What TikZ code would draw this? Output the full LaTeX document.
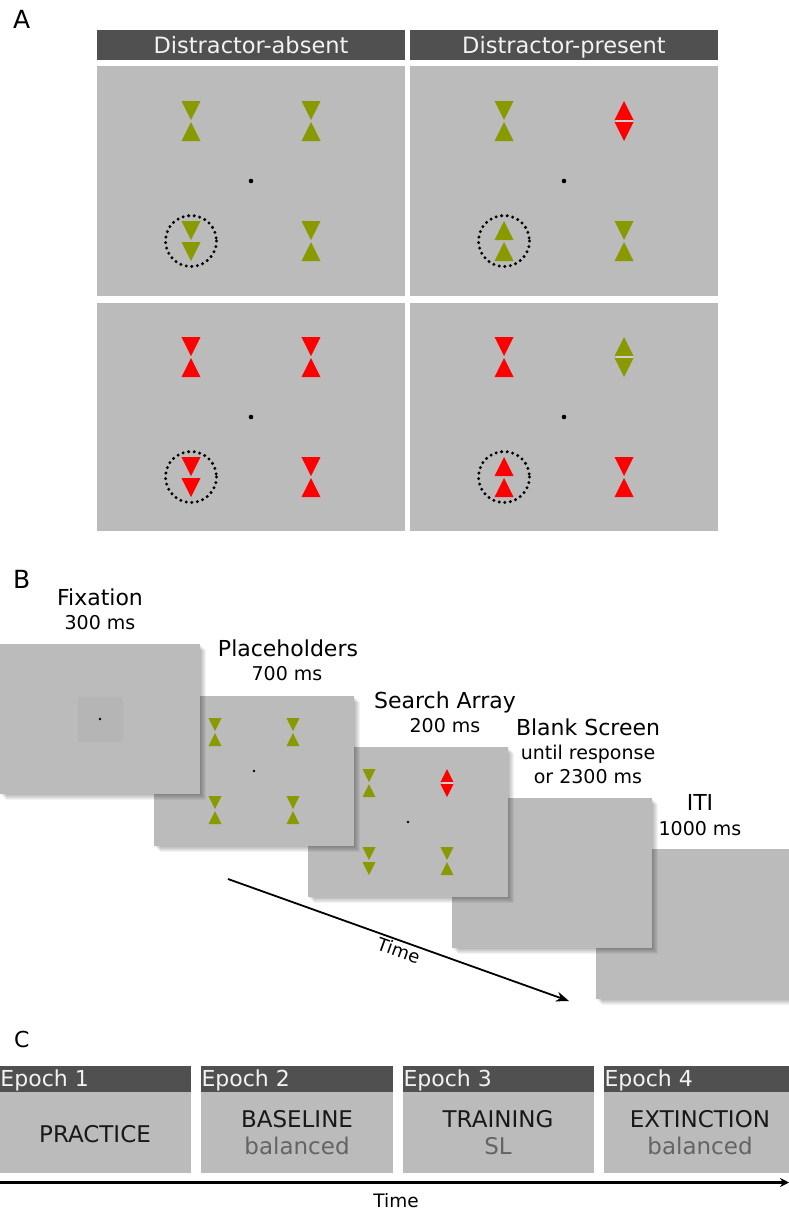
\documentclass[tikz,border=0pt]{standalone}
\usepackage{fontspec}
\setmainfont{DejaVu Sans}
\usetikzlibrary{arrows.meta}
\definecolor{bg}{RGB}{187,187,187}
\definecolor{hdr}{RGB}{80,80,80}
\definecolor{olv}{RGB}{137,153,0}
\definecolor{rd}{RGB}{255,0,0}
\definecolor{fixsq}{RGB}{181,181,181}
\definecolor{subtxt}{RGB}{100,100,100}
\definecolor{gapline}{RGB}{215,205,205}
% triangle: x, base y, apex y, colour, width
\newcommand{\tri}[5]{\fill[#4] ({#1-#5/2},{#2}) -- ({#1+#5/2},{#2}) -- ({#1},{#3}) -- cycle;}
% pairs: x, centre y, colour, size
\newcommand{\hgl}[4]{\tri{#1}{#2-1-#4}{#2-1}{#3}{#4}\tri{#1}{#2+1+#4}{#2+1}{#3}{#4}}
\newcommand{\ddn}[4]{\tri{#1}{#2-1-#4}{#2-1}{#3}{#4}\tri{#1}{#2+1}{#2+1+#4}{#3}{#4}}
\newcommand{\uup}[4]{\tri{#1}{#2-1}{#2-1-#4}{#3}{#4}\tri{#1}{#2+1+#4}{#2+1}{#3}{#4}}
\newcommand{\dia}[4]{\tri{#1}{#2-1}{#2-1-#4}{#3}{#4}\tri{#1}{#2+1}{#2+1+#4}{#3}{#4}%
  \draw[gapline,line width=1.2pt] ({#1-#4/2+1},{#2}) -- ({#1+#4/2-1},{#2});}
% screen with drop shadow: left x, top y
\newcommand{\scrn}[2]{%
  \foreach \k in {1,...,6}{\fill[black,opacity=0.05] ({#1+\k},{#2+\k}) rectangle ({#1+200+\k},{#2+150+\k});}
  \fill[bg] (#1,#2) rectangle ({#1+200},{#2+150});}
\begin{document}
\begin{tikzpicture}[x=1pt,y=-1pt,
  every node/.style={inner sep=0pt,outer sep=0pt},
  hdrbox/.style={fill=hdr},
  cellbox/.style={fill=bg},
  targetring/.style={line width=3.3pt,dash pattern=on 0pt off 5.6pt,line cap=round},
  panellabel/.style={anchor=base west,font=\fontsize{25}{30}\selectfont},
  hdrtext/.style={anchor=base,text=white!95!black,font=\fontsize{22.5}{27}\selectfont},
  steptitle/.style={anchor=base,font=\fontsize{22}{26}\selectfont},
  stepsub/.style={anchor=base,font=\fontsize{19}{23}\selectfont},
  epochtext/.style={anchor=base west,text=white!95!black,font=\fontsize{22}{26}\selectfont},
  phasetext/.style={anchor=base,text=black!90,font=\fontsize{23}{27}\selectfont},
  phasesub/.style={anchor=base,text=subtxt,font=\fontsize{23}{27}\selectfont},
  fixdot/.style={fill=black}]
\useasboundingbox (0,0) rectangle (789,1211);

% ---------------- Panel A ----------------
\node[panellabel] (labA) at (13,28) {A};
\fill[hdrbox] (97,30) rectangle (405,60);
\fill[hdrbox] (410,30) rectangle (718,60);
\node[hdrtext] (hA1) at (251,53) {Distractor-absent};
\node[hdrtext] (hA2) at (564,53) {Distractor-present};
\fill[cellbox] (97,66) rectangle (405,296);
\fill[cellbox] (410,66) rectangle (718,296);
\fill[cellbox] (97,303) rectangle (405,531);
\fill[cellbox] (410,303) rectangle (718,531);
% top-left
\hgl{191}{121}{olv}{19}\hgl{311}{121}{olv}{19}
\ddn{191}{241}{olv}{19}\hgl{311}{241}{olv}{19}
\draw[targetring] (191,241) circle[radius=25.5];
\fill[fixdot] (251,181) circle[radius=2.3];
% top-right
\hgl{504}{121}{olv}{19}\dia{624}{121}{rd}{19}
\uup{504}{241}{olv}{19}\hgl{624}{241}{olv}{19}
\draw[targetring] (504,241) circle[radius=25.5];
\fill[fixdot] (564,181) circle[radius=2.3];
% bottom-left
\hgl{191}{357}{rd}{19}\hgl{311}{357}{rd}{19}
\ddn{191}{477}{rd}{19}\hgl{311}{477}{rd}{19}
\draw[targetring] (191,477) circle[radius=25.5];
\fill[fixdot] (251,417) circle[radius=2.3];
% bottom-right
\hgl{504}{357}{rd}{19}\dia{624}{357}{olv}{19}
\uup{504}{477}{rd}{19}\hgl{624}{477}{rd}{19}
\draw[targetring] (504,477) circle[radius=25.5];
\fill[fixdot] (564,417) circle[radius=2.3];

% ---------------- Panel B ----------------
\node[panellabel] (labB) at (13,588) {B};
% screens drawn back to front (earlier screens lie on top)
\scrn{596}{849}
\scrn{452}{798}
\scrn{308}{747}
\hgl{369}{783}{olv}{13}\dia{447}{783}{rd}{13}
\ddn{369}{861}{olv}{13}\hgl{447}{861}{olv}{13}
\fill[fixdot] (408,822) circle[radius=1.4];
\scrn{154}{696}
\hgl{215}{732}{olv}{13}\hgl{293}{732}{olv}{13}
\hgl{215}{810}{olv}{13}\hgl{293}{810}{olv}{13}
\fill[fixdot] (254,771) circle[radius=1.4];
\scrn{0}{644}
\fill[fixsq] (77.5,696.5) rectangle (122.5,741.5);
\fill[fixdot] (100,719) circle[radius=1.4];

\node[steptitle] (t1) at (100,605) {Fixation};
\node[stepsub] (d1) at (100,629) {300 ms};
\node[steptitle] (t2) at (288,656) {Placeholders};
\node[stepsub] (d2) at (287,680) {700 ms};
\node[steptitle] (t3) at (445,708) {Search Array};
\node[stepsub] (d3) at (445,732) {200 ms};
\node[steptitle] (t4) at (588,735) {Blank Screen};
\node[stepsub] (d4a) at (588,759) {until response};
\node[stepsub] (d4b) at (588,783) {or 2300 ms};
\node[steptitle] (t5) at (700,810) {ITI};
\node[stepsub] (d5) at (700,835) {1000 ms};

\coordinate (tA) at (228,879);
\coordinate (tB) at (569,1001);
\draw[line width=1.8pt,-{Stealth[length=13pt,width=10pt]}] (tA) -- node[pos=0.51,sloped,below=2.5pt,font=\fontsize{18}{21}\selectfont] (timeB) {Time} (tB);

% ---------------- Panel C ----------------
\node[panellabel,font=\fontsize{22}{26}\selectfont] (labC) at (14,1047) {C};
\fill[hdrbox] (0,1066) rectangle (191,1092);
\fill[hdrbox] (201,1066) rectangle (393,1092);
\fill[hdrbox] (403,1066) rectangle (594,1092);
\fill[hdrbox] (604,1066) rectangle (796,1092);
\fill[cellbox] (0,1092) rectangle (191,1173);
\fill[cellbox] (201,1092) rectangle (393,1173);
\fill[cellbox] (403,1092) rectangle (594,1173);
\fill[cellbox] (604,1092) rectangle (796,1173);
\node[epochtext] (e1) at (0.5,1086) {Epoch 1};
\node[epochtext] (e2) at (201.5,1086) {Epoch 2};
\node[epochtext] (e3) at (403.5,1086) {Epoch 3};
\node[epochtext] (e4) at (604.5,1086) {Epoch 4};
\node[phasetext] (p1) at (95,1142) {PRACTICE};
\node[phasetext] (p2) at (297,1127) {BASELINE};
\node[phasesub] (s2) at (297,1154) {balanced};
\node[phasetext] (p3) at (498,1127) {TRAINING};
\node[phasesub] (s3) at (498,1154) {SL};
\node[phasetext] (p4) at (700,1127) {EXTINCTION};
\node[phasesub] (s4) at (700,1154) {balanced};
\coordinate (cA) at (0,1182.5);
\coordinate (cB) at (789,1182.5);
\draw[line width=2.6pt,-{Stealth[length=9pt,width=9pt]}] (cA) -- (cB);
\node[anchor=base,font=\fontsize{18.5}{22}\selectfont] (timeC) at (396,1207) {Time};
\end{tikzpicture}
\end{document}
